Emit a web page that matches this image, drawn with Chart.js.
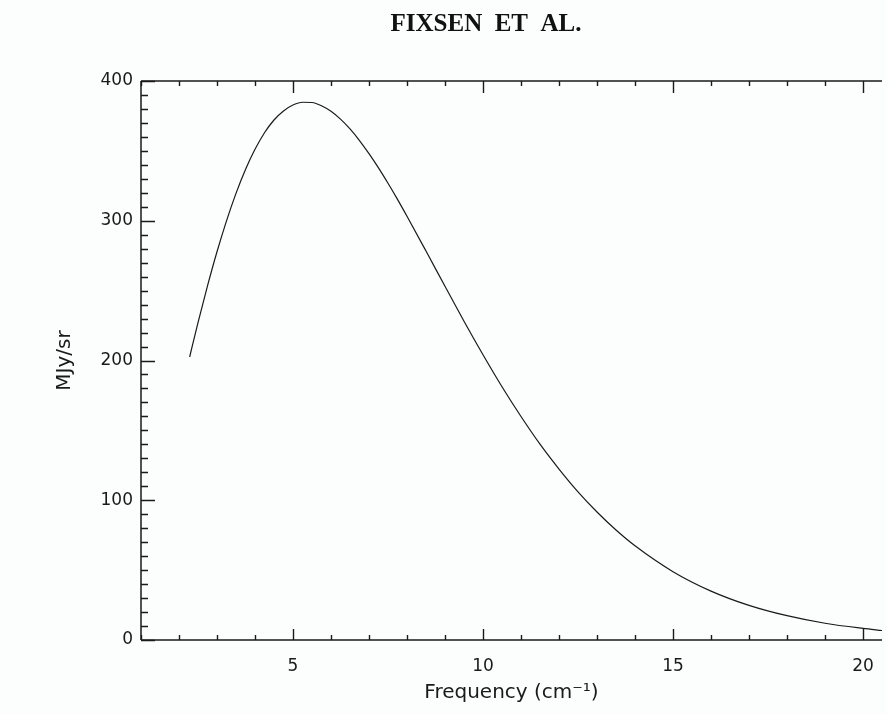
<!DOCTYPE html>
<html><head><meta charset="utf-8">
<script src="https://cdn.jsdelivr.net/npm/chart.js@4"></script>
<style>html,body{margin:0;padding:0;background:#fcfdfd;} #wrap{width:887px;height:714px;}</style>
</head><body><div id="wrap"><canvas id="c" width="887" height="714"></canvas></div>
<script>
const titleText = 'FIXSEN  ET  AL.';
const xLabel = 'Frequency (cm\u207B\u00B9)';
const yLabel = 'MJy/sr';
// frequency in cm^-1, intensity in MJy/sr
const frequency = [2.28, 2.5, 2.75, 3, 3.25, 3.5, 3.75, 4, 4.25, 4.5, 4.75, 5, 5.25, 5.5, 5.75, 6, 6.25, 6.5, 6.75, 7, 7.25, 7.5, 7.75, 8, 8.5, 9, 9.5, 10, 10.5, 11, 11.5, 12, 12.5, 13, 13.5, 14, 15, 16, 17, 18, 19, 20, 20.5];
const intensity = [202.5, 227.1, 253.4, 277.8, 299.9, 319.6, 336.7, 351.1, 363.0, 372.1, 378.6, 382.8, 384.8, 384.6, 382.3, 378.3, 372.7, 365.7, 357.4, 348.0, 337.8, 326.8, 315.3, 303.2, 278.3, 253.1, 228.1, 204.1, 181.2, 159.9, 140.1, 122.3, 106.0, 91.6, 78.7, 67.4, 48.9, 35.0, 24.8, 17.4, 12.0, 8.3, 6.8];
const xRange = [1, 20.5];
const yRange = [0, 400];
const xMajorStep = 5, xMinorStep = 1;
const yMajorStep = 100, yMinorStep = 10;

const ink = '#1a1a1a';
const tickFont = {family: 'DejaVu Sans', size: 17};
const titleFont = {family: 'DejaVu Sans', size: 20};

const innerTicks = {
  id: 'innerTicks',
  afterDatasetsDraw(chart) {
    const {ctx, chartArea: a, scales: {x, y}} = chart;
    ctx.save();
    ctx.strokeStyle = ink;
    ctx.lineWidth = 1.5;
    ctx.beginPath();
    ctx.moveTo(a.left, a.top); ctx.lineTo(a.right, a.top);
    ctx.moveTo(a.left, a.top); ctx.lineTo(a.left, a.bottom);
    ctx.moveTo(a.left, a.bottom); ctx.lineTo(a.right, a.bottom);
    ctx.stroke();
    ctx.lineWidth = 1.4;
    ctx.beginPath();
    for (let v = Math.ceil(xRange[0]); v <= xRange[1]; v += xMinorStep) {
      const px = Math.round(x.getPixelForValue(v)) + 0.5;
      const major = v % xMajorStep === 0;
      ctx.moveTo(px, a.bottom); ctx.lineTo(px, a.bottom - (major ? 11 : 5));
      ctx.moveTo(px, a.top); ctx.lineTo(px, a.top + (major ? 12 : 5));
    }
    for (let v = yRange[0]; v <= yRange[1]; v += yMinorStep) {
      const py = Math.round(y.getPixelForValue(v)) + 0.5;
      const major = v % yMajorStep === 0;
      ctx.moveTo(a.left, py); ctx.lineTo(a.left + (major ? 14 : 7), py);
    }
    ctx.stroke();
    // page title
    ctx.fillStyle = '#111';
    ctx.font = 'bold 25px "Liberation Serif"';
    ctx.textAlign = 'center';
    ctx.textBaseline = 'middle';
    ctx.fillText(titleText, 486, 25);
    ctx.restore();
  }
};

new Chart(document.getElementById('c'), {
  type: 'line',
  data: {
    datasets: [{
      data: frequency.map((f, i) => ({x: f, y: intensity[i]})),
      borderColor: ink,
      borderWidth: 1.2,
      pointRadius: 0,
      fill: false,
      cubicInterpolationMode: 'monotone'
    }]
  },
  options: {
    responsive: false,
    animation: false,
    devicePixelRatio: 1,
    layout: {padding: {top: 81, right: 5, left: 0, bottom: 0}},
    plugins: {legend: {display: false}, tooltip: {enabled: false}, title: {display: false}},
    scales: {
      x: {
        type: 'linear', min: xRange[0], max: xRange[1],
        grid: {display: false, drawTicks: false},
        border: {display: false},
        afterBuildTicks: s => {
          const t = [];
          for (let v = Math.ceil(xRange[0]); v <= xRange[1]; v += xMinorStep) t.push({value: v});
          s.ticks = t;
        },
        ticks: {
          autoSkip: false, maxRotation: 0, color: ink, font: tickFont, padding: 16,
          callback: v => (v % xMajorStep === 0 ? String(v) : '')
        },
        title: {display: true, text: xLabel, color: ink, font: titleFont, padding: {top: 0, bottom: 9}},
        afterFit: s => { s.height = 74; s.paddingLeft = 0; s.paddingRight = 0; }
      },
      y: {
        type: 'linear', min: yRange[0], max: yRange[1],
        grid: {display: false, drawTicks: false},
        border: {display: false},
        ticks: {stepSize: yMajorStep, color: ink, font: tickFont, padding: 8},
        title: {display: true, text: yLabel, color: ink, font: titleFont, padding: {top: 53, bottom: 0}},
        afterFit: s => { s.width = 141; s.paddingTop = 0; s.paddingBottom = 0; }
      }
    }
  },
  plugins: [innerTicks]
});
</script>
</body></html>
